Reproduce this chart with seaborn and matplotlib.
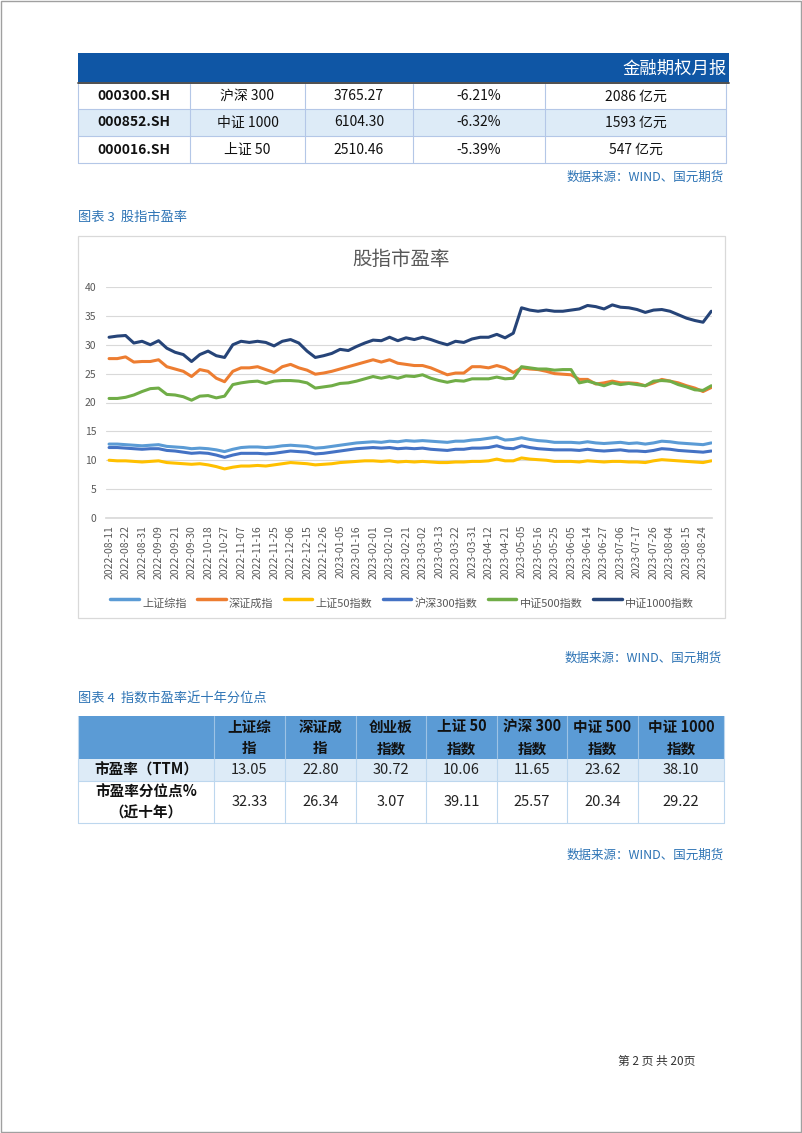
import numpy as np
import pandas as pd
import matplotlib
matplotlib.use('Agg')
import matplotlib.pyplot as plt
from matplotlib.patches import Rectangle
import seaborn as sns

# ---- table 1 (top of page) ----
t1_codes = ['000300.SH', '000852.SH', '000016.SH']
t1_names = ['沪深 300', '中证 1000', '上证 50']
t1_close = ['3765.27', '6104.30', '2510.46']
t1_chg = ['-6.21%', '-6.32%', '-5.39%']
t1_amount = ['2086 亿元', '1593 亿元', '547 亿元']

# ---- chart 3: PE lines, one sample every half label step (3.5 trading days) ----
tick_labels = ['2022-08-11', '2022-08-22', '2022-08-31', '2022-09-09', '2022-09-21', '2022-09-30',
               '2022-10-18', '2022-10-27', '2022-11-07', '2022-11-16', '2022-11-25', '2022-12-06',
               '2022-12-15', '2022-12-26', '2023-01-05', '2023-01-16', '2023-02-01', '2023-02-10',
               '2023-02-21', '2023-03-02', '2023-03-13', '2023-03-22', '2023-03-31', '2023-04-12',
               '2023-04-21', '2023-05-05', '2023-05-16', '2023-05-25', '2023-06-05', '2023-06-14',
               '2023-06-27', '2023-07-06', '2023-07-17', '2023-07-26', '2023-08-04', '2023-08-15',
               '2023-08-24']
series_names = ['上证综指', '深证成指', '上证50指数', '沪深300指数', '中证500指数', '中证1000指数']

szzz = [12.8, 12.8, 12.7, 12.6, 12.5, 12.6, 12.7, 12.4, 12.3, 12.2, 12.0, 12.1, 12.0, 11.8, 11.5, 11.9,
        12.2, 12.3, 12.3, 12.2, 12.3, 12.5, 12.6, 12.5, 12.4, 12.1, 12.2, 12.4, 12.6, 12.8, 13.0, 13.1,
        13.2, 13.1, 13.3, 13.2, 13.4, 13.3, 13.4, 13.3, 13.2, 13.1, 13.3, 13.3, 13.5, 13.6, 13.8, 14.0,
        13.5, 13.6, 13.9, 13.6, 13.4, 13.3, 13.1, 13.1, 13.1, 13.0, 13.2, 13.0, 12.9, 13.0, 13.1, 12.9,
        13.0, 12.8, 13.0, 13.3, 13.2, 13.0, 12.9, 12.8, 12.7, 13.0]
szcz = [27.6, 27.6, 27.9, 27.0, 27.1, 27.1, 27.4, 26.2, 25.8, 25.4, 24.5, 25.7, 25.4, 24.2, 23.6, 25.4,
        26.0, 26.0, 26.2, 25.7, 25.2, 26.2, 26.6, 26.0, 25.6, 24.9, 25.1, 25.4, 25.8, 26.2, 26.6, 27.0,
        27.4, 27.0, 27.4, 26.8, 26.6, 26.4, 26.4, 26.0, 25.4, 24.8, 25.1, 25.1, 26.2, 26.2, 26.0, 26.4,
        26.0, 25.2, 26.0, 25.8, 25.7, 25.4, 25.0, 24.9, 24.8, 24.0, 24.0, 23.2, 23.4, 23.7, 23.4, 23.4,
        23.3, 22.9, 23.4, 24.0, 23.7, 23.4, 22.9, 22.5, 21.9, 22.6]
sz50 = [10.0, 9.9, 9.9, 9.8, 9.7, 9.8, 9.9, 9.6, 9.5, 9.4, 9.3, 9.4, 9.2, 8.9, 8.5, 8.8,
        9.0, 9.0, 9.1, 9.0, 9.2, 9.4, 9.6, 9.5, 9.4, 9.2, 9.3, 9.4, 9.6, 9.7, 9.8, 9.9,
        9.9, 9.8, 9.9, 9.7, 9.8, 9.7, 9.8, 9.7, 9.6, 9.6, 9.7, 9.7, 9.8, 9.8, 9.9, 10.2,
        9.9, 9.9, 10.4, 10.2, 10.1, 10.0, 9.8, 9.8, 9.8, 9.7, 9.9, 9.8, 9.7, 9.8, 9.8, 9.7,
        9.7, 9.6, 9.9, 10.1, 10.0, 9.9, 9.8, 9.7, 9.6, 9.9]
hs300 = [12.2, 12.2, 12.1, 12.0, 11.9, 12.0, 12.0, 11.7, 11.6, 11.4, 11.2, 11.3, 11.2, 10.9, 10.5, 10.9,
         11.2, 11.2, 11.2, 11.1, 11.2, 11.4, 11.6, 11.5, 11.4, 11.1, 11.2, 11.4, 11.6, 11.8, 12.0, 12.1,
         12.2, 12.1, 12.2, 12.0, 12.1, 12.0, 12.1, 11.9, 11.8, 11.7, 11.9, 11.9, 12.1, 12.1, 12.2, 12.5,
         12.1, 12.0, 12.5, 12.2, 12.0, 11.9, 11.8, 11.8, 11.8, 11.7, 11.9, 11.7, 11.6, 11.7, 11.8, 11.6,
         11.6, 11.5, 11.7, 12.0, 11.9, 11.7, 11.6, 11.5, 11.4, 11.6]
zz500 = [20.7, 20.7, 20.9, 21.3, 21.9, 22.4, 22.5, 21.4, 21.3, 21.0, 20.4, 21.1, 21.2, 20.8, 21.1, 23.1,
         23.4, 23.6, 23.7, 23.3, 23.7, 23.8, 23.8, 23.7, 23.4, 22.5, 22.7, 22.9, 23.3, 23.4, 23.7, 24.1,
         24.5, 24.2, 24.5, 24.2, 24.6, 24.5, 24.8, 24.2, 23.8, 23.5, 23.8, 23.7, 24.1, 24.1, 24.1, 24.4,
         24.1, 24.2, 26.2, 26.0, 25.8, 25.8, 25.6, 25.7, 25.7, 23.4, 23.7, 23.3, 22.9, 23.4, 23.1, 23.3,
         23.1, 22.9, 23.7, 23.8, 23.7, 23.1, 22.7, 22.2, 22.1, 22.9]
zz1000 = [31.3, 31.5, 31.6, 30.3, 30.6, 30.0, 30.7, 29.4, 28.7, 28.3, 27.1, 28.3, 28.9, 28.1, 27.8, 30.0,
          30.6, 30.4, 30.6, 30.4, 29.8, 30.6, 30.9, 30.3, 28.9, 27.8, 28.1, 28.5, 29.2, 29.0, 29.7, 30.3,
          30.8, 30.7, 31.3, 30.7, 31.2, 30.9, 31.3, 30.9, 30.4, 30.0, 30.6, 30.4, 31.0, 31.3, 31.3, 31.8,
          31.2, 32.0, 36.4, 36.0, 35.8, 36.0, 35.8, 35.8, 36.0, 36.2, 36.8, 36.6, 36.2, 36.9, 36.5, 36.4,
          36.1, 35.6, 36.0, 36.1, 35.8, 35.2, 34.6, 34.2, 33.9, 35.8]

# ---- table 2 ----
t2_headers = ['上证综\n指', '深证成\n指', '创业板\n指数', '上证 50\n指数', '沪深 300\n指数', '中证 500\n指数', '中证 1000\n指数']
pe_ttm = [13.05, 22.80, 30.72, 10.06, 11.65, 23.62, 38.10]
pe_pct = [32.33, 26.34, 3.07, 39.11, 25.57, 20.34, 29.22]

colors = ['#5B9BD5', '#ED7D31', '#FFC000', '#4472C4', '#70AD47', '#264478']
blue_txt = '#2E74B5'
grey_txt = '#595959'

sns.set_theme(style='white')
plt.rcParams['font.family'] = ['Noto Sans CJK SC', 'DejaVu Sans']

W, H = 802, 1133
fig = plt.figure(figsize=(W / 100, H / 100), dpi=100)
bg = fig.add_axes([0, 0, 1, 1])
bg.set_xlim(0, W)
bg.set_ylim(H, 0)
bg.axis('off')


def box(x0, y0, x1, y1, fc='none', ec='none', lw=0.8):
    bg.add_patch(Rectangle((x0, y0), x1 - x0, y1 - y0, facecolor=fc, edgecolor=ec, lw=lw))


# page border
box(1, 1, W - 1, H - 1, ec='#A0A0A0', lw=1)

# header bar
box(78, 53, 729, 82, fc='#0F56A5')
bg.text(727, 69, '金融期权月报', color='white', fontsize=12.5, ha='right', va='center')
bg.plot([78, 729], [83, 83], color='#404040', lw=1.3)

# table 1
c1 = [78, 190, 305, 413, 545, 726]
r1 = [84, 109, 136, 163]
box(78, r1[1], 726, r1[2], fc='#DDEBF7')
for x in c1:
    bg.plot([x, x], [r1[0], r1[-1]], color='#B4C7E7', lw=0.8)
for y in r1[1:]:
    bg.plot([78, 726], [y, y], color='#B4C7E7', lw=0.8)
for i in range(3):
    yc = (r1[i] + r1[i + 1]) / 2
    cells = [t1_codes[i], t1_names[i], t1_close[i], t1_chg[i], t1_amount[i]]
    for j, s in enumerate(cells):
        bg.text((c1[j] + c1[j + 1]) / 2, yc, s, fontsize=10, ha='center', va='center', color='#111111',
                fontweight='bold' if j == 0 else 'normal')

src = '数据来源：WIND、国元期货'
bg.text(724, 177, src, color=blue_txt, fontsize=9, ha='right', va='center')
bg.text(78, 217, '图表 3  股指市盈率', color=blue_txt, fontsize=9.5, ha='left', va='center')

# chart frame
box(78, 236, 725, 618, fc='white', ec='#D9D9D9', lw=0.9)
bg.text(401, 259, '股指市盈率', color=grey_txt, fontsize=14, fontweight='medium', ha='center', va='center')

# ---- line chart ----
step = 3.5
n = len(szzz)
df = pd.DataFrame({
    'day': np.tile(np.arange(n) * step, 6),
    'pe': szzz + szcz + sz50 + hs300 + zz500 + zz1000,
    'name': np.repeat(series_names, n),
})
ax = fig.add_axes([106 / W, 1 - 518 / H, (712 - 106) / W, (518 - 287) / H])
ax.patch.set_alpha(0)
sns.lineplot(data=df, x='day', y='pe', hue='name', hue_order=series_names,
             palette=dict(zip(series_names, colors)), linewidth=2.2, ax=ax)
ax.set_xlim(-1.3, 255.8)
ax.set_ylim(0, 40)
ax.set_yticks(range(0, 41, 5))
ax.set_xticks(np.arange(len(tick_labels)) * 7)
ax.set_xticklabels(tick_labels, rotation=90)
ax.set_xticks(np.arange(0, 256), minor=True)
ax.tick_params(axis='x', which='major', length=3, color='#D9D9D9', labelsize=7.5,
               labelcolor=grey_txt, pad=2)
ax.tick_params(axis='x', which='minor', length=3, color='#D9D9D9', width=0.6)
ax.tick_params(axis='y', length=0, labelsize=7.5, labelcolor=grey_txt, pad=7)
ax.yaxis.grid(True, color='#D9D9D9', lw=0.8)
ax.set_axisbelow(True)
for s in ['top', 'right', 'left']:
    ax.spines[s].set_visible(False)
ax.spines['bottom'].set_color('#D9D9D9')
ax.set_xlabel('')
ax.set_ylabel('')
handles, labels = ax.get_legend_handles_labels()
ax.get_legend().remove()
for h in handles:
    h.set_linewidth(2.5)
leg = fig.legend(handles, labels, loc='center', bbox_to_anchor=(402 / W, 1 - 600 / H), ncol=6,
                 frameon=False, fontsize=8, handlelength=2.6, handletextpad=0.3, columnspacing=0.9,
                 labelcolor=grey_txt)
for t in leg.get_texts():
    t.set_va('center')

bg.text(722, 658, src, color=blue_txt, fontsize=9, ha='right', va='center')
bg.text(78, 699, '图表 4  指数市盈率近十年分位点', color=blue_txt, fontsize=9.5, ha='left', va='center')

# ---- table 2 ----
c2 = [78, 214, 285, 356, 426, 497, 567, 638, 724]
r2 = [716, 759, 781, 823]
box(78, r2[0], 724, r2[1], fc='#5B9BD5')
box(78, r2[1], 724, r2[2], fc='#DDEBF7')
for x in c2[1:-1]:
    bg.plot([x, x], [r2[0], r2[1]], color='#9DC3E6', lw=0.8)
    bg.plot([x, x], [r2[1], r2[3]], color='#BDD7EE', lw=0.8)
bg.plot([78, 78], [r2[0], r2[3]], color='#BDD7EE', lw=0.8)
bg.plot([724, 724], [r2[0], r2[3]], color='#BDD7EE', lw=0.8)
for y in r2[2:]:
    bg.plot([78, 724], [y, y], color='#BDD7EE', lw=0.8)
for j, hdr in enumerate(t2_headers):
    xc = (c2[j + 1] + c2[j + 2]) / 2
    bg.text(xc, (r2[0] + r2[1]) / 2, hdr, fontsize=10.5, fontweight='bold', ha='center',
            va='center', linespacing=1.45, color='#111111')
    bg.text(xc, (r2[1] + r2[2]) / 2, f'{pe_ttm[j]:.2f}', fontsize=10.5, ha='center', va='center',
            color='#222222')
    bg.text(xc, (r2[2] + r2[3]) / 2, f'{pe_pct[j]:.2f}', fontsize=10.5, ha='center', va='center',
            color='#222222')
bg.text(146, (r2[1] + r2[2]) / 2, '市盈率（TTM）', fontsize=10.5, fontweight='bold', ha='center',
        va='center', color='#111111')
bg.text(146, (r2[2] + r2[3]) / 2, '市盈率分位点%\n（近十年）', fontsize=10.5, fontweight='bold',
        ha='center', va='center', linespacing=1.35, color='#111111')

bg.text(724, 855, src, color=blue_txt, fontsize=9, ha='right', va='center')
bg.text(657, 1061, '第 2 页 共 20页', color='#333333', fontsize=8.5, ha='center', va='center')

fig.savefig('out.png', dpi=100)
